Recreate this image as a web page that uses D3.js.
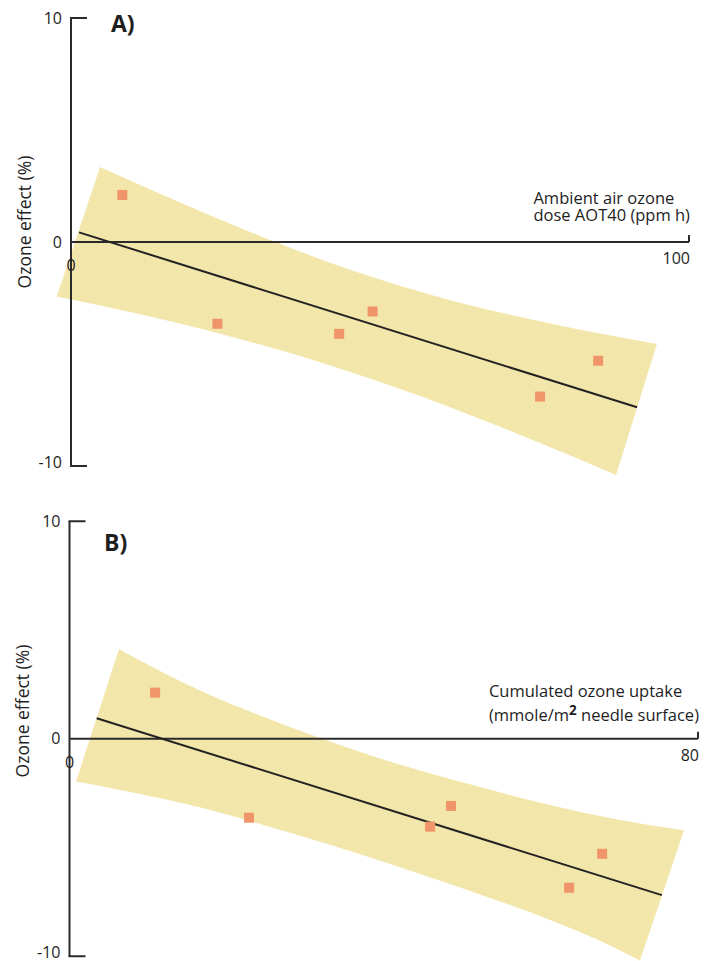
<!DOCTYPE html>
<html>
<head>
<meta charset="utf-8">
<script src="https://cdn.jsdelivr.net/npm/d3@7"></script>
<style>
  body { margin: 0; background: #fff; }
  svg text { font-family: "Open Sans", "Noto Sans", sans-serif; fill: #1e1e1e; }
</style>
</head>
<body>
<svg id="chart" width="714" height="961"></svg>
<script>
// ---------- Data ----------
// Panel A: ambient air ozone dose AOT40 (ppm h) vs ozone effect (%)
const pointsAx = [8.3, 23.7, 43.4, 48.8, 75.9, 85.3];
const pointsAy = [2.1, -3.65, -4.1, -3.1, -6.9, -5.3];
const lineAx = [1.3, 91.6];
const lineAy = [0.43, -7.38];
const bandAUpperX = [4.7, 14.4, 24.1, 33.8, 43.5, 53.2, 62.9, 72.7, 82.4, 94.8];
const bandAUpperY = [3.35, 2.15, 1.0, -0.08, -1.08, -1.95, -2.71, -3.35, -3.92, -4.55];
const bandALowerX = [-2.3, 7.9, 17.6, 27.3, 37.1, 46.8, 56.5, 66.2, 75.9, 88.2];
const bandALowerY = [-2.43, -3.02, -3.64, -4.33, -5.09, -5.95, -6.88, -7.90, -8.97, -10.40];

// Panel B: cumulated ozone uptake vs ozone effect (%)
const pointsBx = [10.9, 22.85, 45.9, 48.56, 63.6, 67.8];
const pointsBy = [2.12, -3.63, -4.04, -3.09, -6.85, -5.29];
const lineBx = [3.46, 75.4];
const lineBy = [0.94, -7.19];
const bandBUpperX = [6.30, 11.52, 17.88, 24.25, 31.89, 40.16, 48.44, 52.26, 61.17, 70.07, 78.22];
const bandBUpperY = [4.13, 3.11, 2.01, 1.07, 0.03, -0.98, -1.85, -2.22, -3.05, -3.74, -4.21];
const bandBLowerX = [0.83, 8.97, 16.61, 25.52, 35.29, 44.62, 53.53, 61.17, 67.53, 72.62];
const bandBLowerY = [-1.97, -2.54, -3.15, -4.06, -5.11, -6.22, -7.32, -8.33, -9.29, -10.20];

const yTicks = [10, 0, -10];
const yTickLabels = ["10", "0", "-10"];
const xMaxA = 100;
const xMaxB = 80;
const yTitle = "Ozone effect (%)";
const panelLabels = ["A)", "B)"];

// ---------- Styles ----------
const bandColor = "#f3e6ab";
const pointColor = "#f0946a";
const lineColor = "#222222";
const axisColor = "#2b2b2b";

const svg = d3.select("#chart");

function drawPanel(cfg) {
  const x = d3.scaleLinear().domain([0, cfg.xMax]).range(cfg.xRange);
  const y = d3.scaleLinear().domain([-10, 10]).range(cfg.yRange);
  const g = svg.append("g");

  // confidence band polygon: upper edge left->right, lower edge right->left
  const upper = cfg.ux.map((v, i) => [v, cfg.uy[i]]);
  const lower = cfg.lx.map((v, i) => [v, cfg.ly[i]]).reverse();
  const curve = d3.line().x(d => x(d[0])).y(d => y(d[1])).curve(d3.curveMonotoneX);
  const upPath = curve(upper);
  const lowPath = curve(lower);
  g.append("path")
    .attr("d", upPath + "L" + lowPath.slice(1) + "Z")
    .attr("fill", bandColor);

  // x axis (zero line)
  g.append("line")
    .attr("x1", x(0)).attr("x2", x(cfg.xMax))
    .attr("y1", y(0)).attr("y2", y(0))
    .attr("stroke", axisColor).attr("stroke-width", 2);
  g.append("line")
    .attr("x1", x(cfg.xMax)).attr("x2", x(cfg.xMax))
    .attr("y1", y(0)).attr("y2", y(0) - 7)
    .attr("stroke", axisColor).attr("stroke-width", 2);

  // y axis
  g.append("line")
    .attr("x1", x(0)).attr("x2", x(0))
    .attr("y1", y(10)).attr("y2", y(-10))
    .attr("stroke", axisColor).attr("stroke-width", 2);
  [10, -10].forEach(t => {
    g.append("line")
      .attr("x1", x(0) - 1).attr("x2", x(0) + 16)
      .attr("y1", y(t)).attr("y2", y(t))
      .attr("stroke", axisColor).attr("stroke-width", 2);
  });

  // y tick labels via d3 axis
  const yAxis = d3.axisLeft(y).tickValues(yTicks).tickSize(0).tickPadding(9)
    .tickFormat((d, i) => yTickLabels[i]);
  const ya = g.append("g").attr("transform", `translate(${x(0)},0)`).call(yAxis);
  ya.select(".domain").remove();
  ya.selectAll("text").attr("font-size", 16).attr("font-family", null).attr("fill", "#1e1e1e");
  ya.selectAll(".tick").filter(d => d === -10).select("text").attr("dy", "0.1em");

  // x tick labels
  g.append("text").attr("x", x(0)).attr("y", y(0) + 29)
    .attr("text-anchor", "middle").attr("font-size", 16).text("0");
  g.append("text").attr("x", x(cfg.xMax) + 1).attr("y", y(0) + 22)
    .attr("text-anchor", "end").attr("font-size", 16).text(String(cfg.xMax));

  // x axis title (two lines, left aligned, second line ending at the axis end)
  const t2 = g.append("text").attr("x", x(cfg.xMax) + 1).attr("y", y(0) - cfg.line2Off)
    .attr("text-anchor", "end").attr("font-size", 16.5);
  cfg.title2(t2);
  const bb = t2.node().getBBox();
  g.append("text").attr("x", bb.x).attr("y", y(0) - cfg.line1Off)
    .attr("text-anchor", "start").attr("font-size", 16.5).text(cfg.title1);

  // y axis title
  g.append("text")
    .attr("transform", `translate(${cfg.yTitleX},${cfg.yTitleY}) rotate(-90)`)
    .attr("text-anchor", "middle").attr("font-size", 17.5).text(yTitle);

  // panel label
  g.append("text").attr("x", cfg.labelX).attr("y", cfg.labelY)
    .attr("font-size", 23).attr("font-weight", "bold").text(cfg.label);

  // regression line
  g.append("line")
    .attr("x1", x(cfg.lx0[0])).attr("y1", y(cfg.ly0[0]))
    .attr("x2", x(cfg.lx0[1])).attr("y2", y(cfg.ly0[1]))
    .attr("stroke", lineColor).attr("stroke-width", 2);

  // points
  g.selectAll("rect.pt").data(cfg.px.map((v, i) => [v, cfg.py[i]]))
    .enter().append("rect")
    .attr("x", d => x(d[0]) - 5).attr("y", d => y(d[1]) - 5)
    .attr("width", 10).attr("height", 10)
    .attr("fill", pointColor);
}

drawPanel({
  xMax: xMaxA, xRange: [71, 689], yRange: [466, 18],
  ux: bandAUpperX, uy: bandAUpperY, lx: bandALowerX, ly: bandALowerY,
  px: pointsAx, py: pointsAy, lx0: lineAx, ly0: lineAy,
  title1: "Ambient air ozone",
  title2: t => t.text("dose AOT40 (ppm h)"),
  line1Off: 38.5, line2Off: 21,
  yTitleX: 31, yTitleY: 222,
  label: panelLabels[0], labelX: 111, labelY: 32
});

drawPanel({
  xMax: xMaxB, xRange: [69.5, 698], yRange: [956.25, 521.25],
  ux: bandBUpperX, uy: bandBUpperY, lx: bandBLowerX, ly: bandBLowerY,
  px: pointsBx, py: pointsBy, lx0: lineBx, ly0: lineBy,
  title1: "Cumulated ozone uptake",
  title2: t => {
    t.append("tspan").text("(mmole/m");
    t.append("tspan").attr("dy", -6).attr("font-size", 13.5).attr("font-weight", "bold").text("2");
    t.append("tspan").attr("dy", 6).text(" needle surface)");
  },
  line1Off: 42, line2Off: 18,
  yTitleX: 29, yTitleY: 711,
  label: panelLabels[1], labelX: 104, labelY: 551
});
</script>
</body>
</html>
